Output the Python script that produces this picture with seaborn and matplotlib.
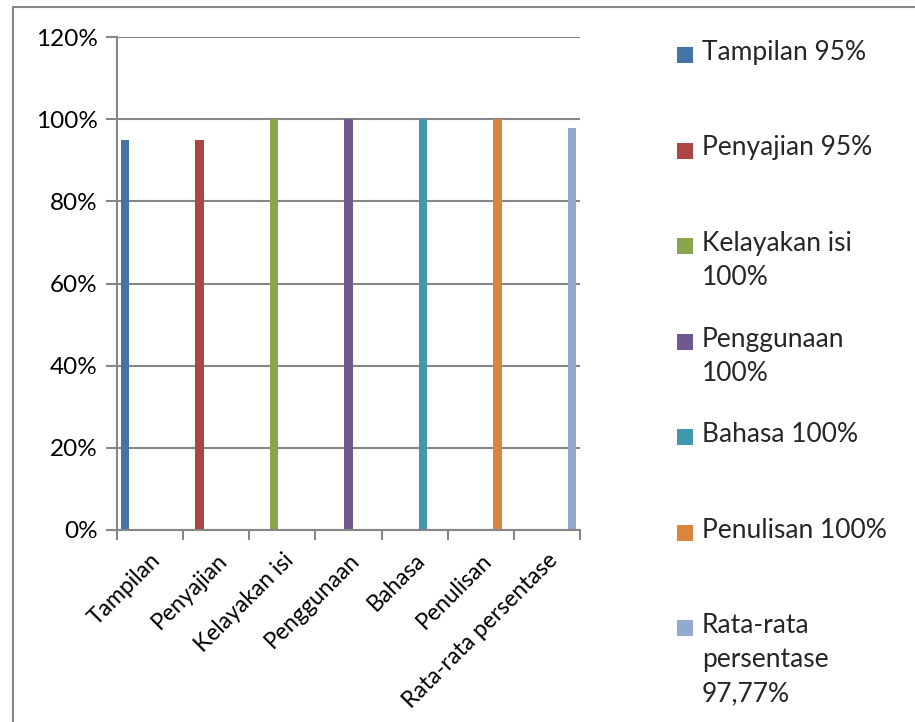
import seaborn as sns
import pandas as pd
import matplotlib.pyplot as plt
from matplotlib.patches import Rectangle
from matplotlib.lines import Line2D
from matplotlib.ticker import PercentFormatter, FixedLocator

categories = ['Tampilan', 'Penyajian', 'Kelayakan isi', 'Penggunaan',
              'Bahasa', 'Penulisan', 'Rata-rata persentase']
values = [0.95, 0.95, 1.00, 1.00, 1.00, 1.00, 0.9777]
legend_labels = ['Tampilan 95%', 'Penyajian 95%', 'Kelayakan isi\n100%',
                 'Penggunaan\n100%', 'Bahasa 100%', 'Penulisan 100%',
                 'Rata-rata\npersentase\n97,77%']
colors = ['#4572A7', '#AA4643', '#89A54E', '#71588F', '#4198AF', '#DB843D', '#93A9CF']

# each series only has a value in its own category
df = pd.DataFrame({'kategori': categories, 'seri': categories, 'nilai': values})

sns.set_theme(style='white')
plt.rcParams['font.family'] = ['Lato', 'DejaVu Sans']
grey = '#868686'

fig = plt.figure(figsize=(9.15, 7.22), dpi=100)
W, H = 915, 722
ax = fig.add_axes([117 / W, 1 - 530 / H, (580 - 117) / W, (530 - 37) / H])

sns.barplot(data=df, x='kategori', y='nilai', hue='seri', order=categories,
            hue_order=categories, palette=colors, width=0.88, dodge=True,
            saturation=1, linewidth=0, legend=False, ax=ax)

ax.set_ylim(0, 1.2)
ax.set_xlim(-0.5, len(categories) - 0.5)
ax.yaxis.set_major_locator(FixedLocator([0, 0.2, 0.4, 0.6, 0.8, 1.0, 1.2]))
ax.yaxis.set_major_formatter(PercentFormatter(1.0, decimals=0))
ax.grid(axis='y', color=grey, linewidth=1.5)
ax.set_axisbelow(True)
for s in ['top', 'right']:
    ax.spines[s].set_visible(False)
for s in ['left', 'bottom']:
    ax.spines[s].set_color(grey)
    ax.spines[s].set_linewidth(1.5)

ax.tick_params(axis='y', left=True, length=8, width=1.5, color=grey,
               labelsize=17.5, pad=6, labelcolor='black')
ax.set_xticks(range(len(categories)))
ax.set_xticklabels(categories, rotation=45, ha='right', rotation_mode='anchor')
ax.set_xticks([i - 0.5 for i in range(len(categories) + 1)], minor=True)
ax.tick_params(axis='x', which='major', bottom=False, length=0, labelsize=16.5,
               pad=14, labelcolor='black')
ax.tick_params(axis='x', which='minor', bottom=True, length=7, width=1.5, color=grey)
ax.set_xlabel('')
ax.set_ylabel('')

# legend drawn by hand to keep Excel-like even spacing
for i, (lab, c) in enumerate(zip(legend_labels, colors)):
    yc = 55 + i * 95.5
    fig.add_artist(Rectangle((677 / W, 1 - (yc + 8) / H), 16 / W, 16 / H,
                             transform=fig.transFigure, color=c, lw=0))
    fig.text(702 / W, 1 - (yc - 15) / H, lab, fontsize=19, va='top', ha='left',
             linespacing=1.45)

# outer chart border
fig.add_artist(Line2D([13 / W, 13 / W], [0, 1 - 7 / H], color=grey, lw=1.5,
                      transform=fig.transFigure))
fig.add_artist(Line2D([13 / W, 1], [1 - 7 / H, 1 - 7 / H], color=grey, lw=1.5,
                      transform=fig.transFigure))

plt.savefig('out.png', dpi=100)
